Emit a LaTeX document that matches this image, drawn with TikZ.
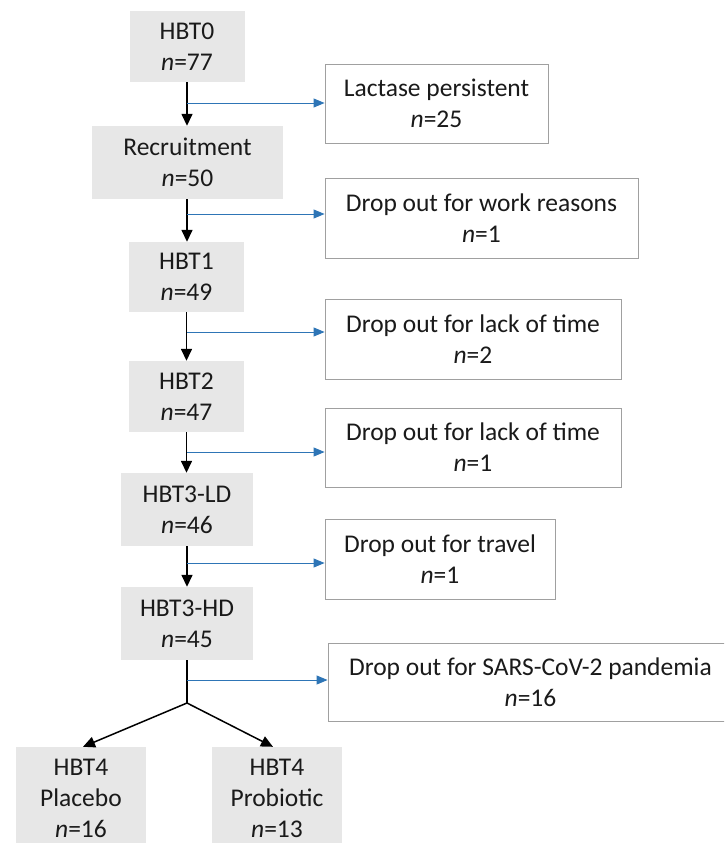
\documentclass[tikz,border=0pt]{standalone}
\usepackage{fontspec}
\setmainfont{Carlito}
\usetikzlibrary{arrows.meta}
\definecolor{boxgray}{HTML}{E7E7E7}
\definecolor{linkblue}{HTML}{2E75B6}
\definecolor{edgegray}{HTML}{A0A0A0}
\definecolor{txt}{HTML}{1A1A1A}
\begin{document}
\begin{tikzpicture}[x=1pt,y=-1pt,
  stage/.style={fill=boxgray, inner sep=0pt, align=center, text=txt, font=\fontsize{25.5}{31}\selectfont},
  outbox/.style={draw=edgegray, line width=0.9pt, fill=white, inner sep=0pt, align=center, text=txt, font=\fontsize{25.5}{31}\selectfont},
  flow/.style={-{Triangle[length=12pt,width=11pt]}, line width=1.5pt, black},
  side/.style={-{Triangle[length=11pt,width=9pt]}, line width=1pt, linkblue}]
\clip (0,0) rectangle (724,843);
\fill[white] (0,0) rectangle (724,843);
% main stages
\node[stage, minimum width=115pt, minimum height=71pt] (h0) at (187,46.5) {HBT0\\\textit{n}=77};
\node[stage, minimum width=191pt, minimum height=73pt] (rec) at (187.5,162.5) {Recruitment\\\textit{n}=50};
\node[stage, minimum width=115pt, minimum height=70pt] (h1) at (186.5,277) {HBT1\\\textit{n}=49};
\node[stage, minimum width=115pt, minimum height=71pt] (h2) at (186.5,396.5) {HBT2\\\textit{n}=47};
\node[stage, minimum width=132pt, minimum height=73pt] (ld) at (187,509.5) {HBT3-LD\\\textit{n}=46};
\node[stage, minimum width=132pt, minimum height=73pt] (hd) at (187,623.5) {HBT3-HD\\\textit{n}=45};
\node[stage, minimum width=130pt, minimum height=102pt] (pla) at (81,798) {HBT4\\Placebo\\\textit{n}=16};
\node[stage, minimum width=130pt, minimum height=102pt] (pro) at (277,798) {HBT4\\Probiotic\\\textit{n}=13};
% exclusion boxes
\node[outbox, minimum width=223pt, minimum height=79pt] (lac) at (436.5,103.5) {Lactase persistent\\\textit{n}=25};
\node[outbox, minimum width=313pt, minimum height=80pt] (work) at (481.5,218) {Drop out for work reasons\\\textit{n}=1};
\node[outbox, minimum width=296pt, minimum height=80pt] (time2) at (473,339) {Drop out for lack of time\\\textit{n}=2};
\node[outbox, minimum width=296pt, minimum height=79pt] (time1) at (473,447.5) {Drop out for lack of time\\\textit{n}=1};
\node[outbox, minimum width=230pt, minimum height=80pt] (trav) at (440,559) {Drop out for travel\\\textit{n}=1};
\node[outbox, minimum width=405pt, minimum height=78pt] (sars) at (530.5,682) {Drop out for SARS-CoV-2 pandemia\\\textit{n}=16};
% trunk arrows
\draw[flow] (h0.south) -- (h0.south |- rec.north);
\draw[flow] (h0.south |- rec.south) -- (h0.south |- h1.north);
\draw[flow] (h1.south) -- (h1.south |- h2.north);
\draw[flow] (h2.south) -- (h2.south |- ld.north);
\draw[flow] (hd.north |- ld.south) -- (hd.north);
\coordinate (sp) at (187,703);
\draw[line width=1.5pt] (hd.south) -- (sp);
\draw[flow] (sp) -- ([xshift=2pt]pla.north);
\draw[flow] (sp) -- ([xshift=-4pt]pro.north);
% side arrows
\coordinate (j1) at (187,103);
\coordinate (j2) at (187,214);
\coordinate (j3) at (187,332);
\coordinate (j4) at (187,452);
\coordinate (j5) at (187,563);
\coordinate (j6) at (187,680);
\draw[side] (j1) -- (j1 -| lac.west);
\draw[side] (j2) -- (j2 -| work.west);
\draw[side] (j3) -- (j3 -| time2.west);
\draw[side] (j4) -- (j4 -| time1.west);
\draw[side] (j5) -- (j5 -| trav.west);
\draw[side] (j6) -- (j6 -| sars.west);
\end{tikzpicture}
\end{document}
